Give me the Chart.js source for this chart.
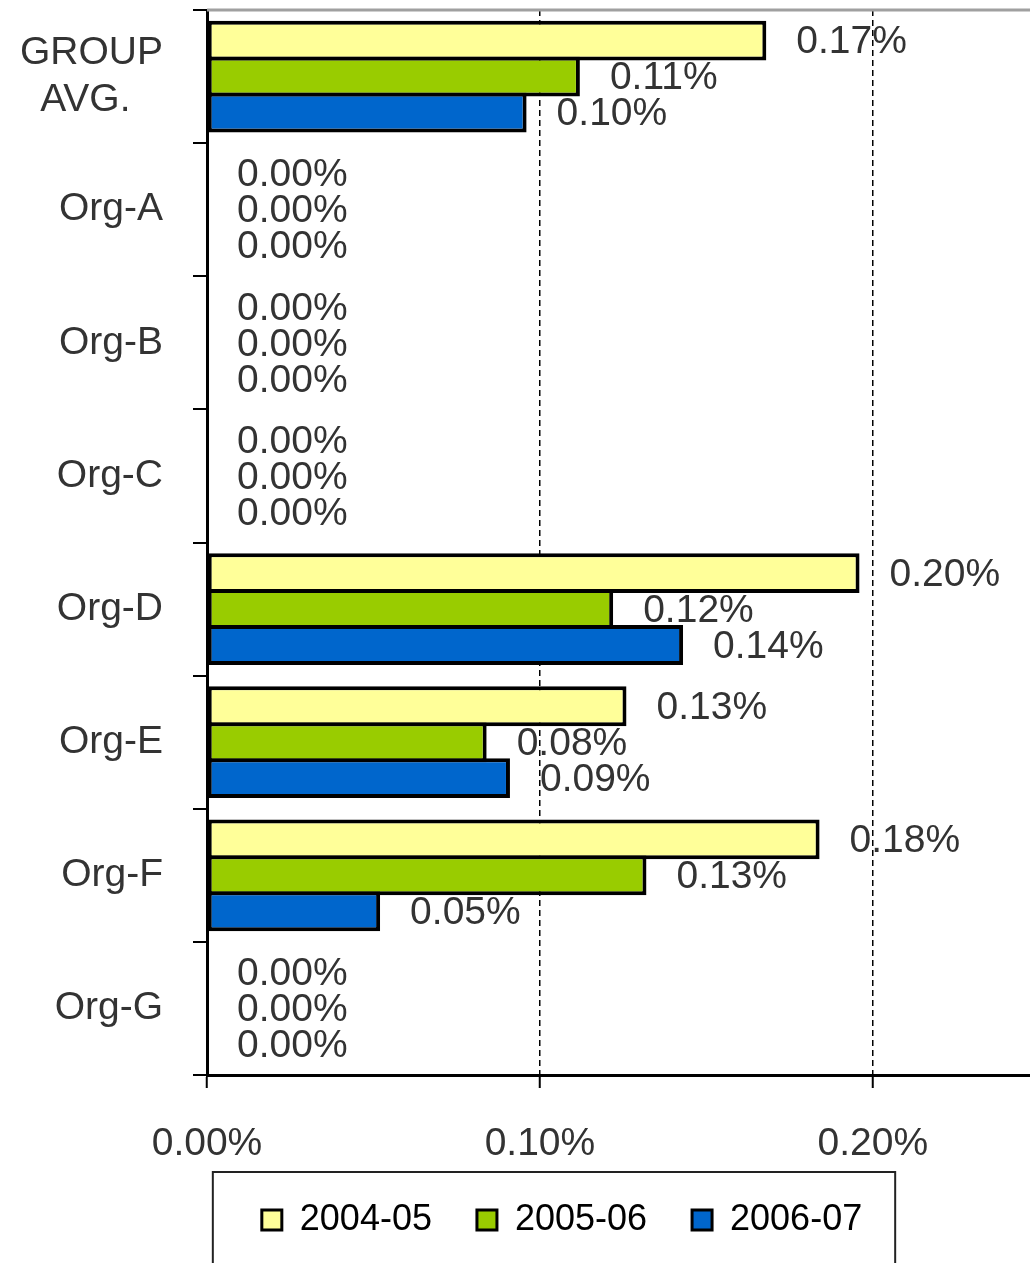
<!DOCTYPE html>
<html>
<head>
<meta charset="utf-8">
<script src="https://cdn.jsdelivr.net/npm/chart.js@4/dist/chart.umd.min.js"></script>
<style>
  html, body { margin: 0; padding: 0; background: #fff; overflow: hidden; }
  canvas { display: block; }
</style>
</head>
<body>
<canvas id="chart" width="1030" height="1263"></canvas>
<script>
// ── Data (percent values) ─────────────────────────────────────
const categories = [['GROUP', 'AVG.   '], 'Org-A', 'Org-B', 'Org-C', 'Org-D', 'Org-E', 'Org-F', 'Org-G'];
const seriesNames = ['2004-05', '2005-06', '2006-07'];
const y2004 = [0.168, 0, 0, 0, 0.196, 0.126, 0.184, 0];
const y2005 = [0.112, 0, 0, 0, 0.122, 0.084, 0.132, 0];
const y2006 = [0.096, 0, 0, 0, 0.143, 0.091, 0.052, 0];
const xTicks = [0, 0.1, 0.2];
const xMax = 0.2472;

const FONT = 'Liberation Sans, Arial, sans-serif';
const TEXT = '#333';
const fmt = v => v.toFixed(2) + '%';

// ── Value labels drawn next to each bar end ───────────────────
const valueLabels = {
  id: 'valueLabels',
  afterDatasetsDraw(chart) {
    const ctx = chart.ctx;
    ctx.save();
    ctx.font = '39px ' + FONT;
    ctx.fillStyle = TEXT;
    ctx.textAlign = 'left';
    ctx.textBaseline = 'middle';
    chart.data.datasets.forEach((ds, i) => {
      chart.getDatasetMeta(i).data.forEach((bar, j) => {
        ctx.fillText(fmt(ds.data[j]), bar.x + 30, bar.y + 2);
      });
    });
    ctx.restore();
  }
};

// ── Legend nudge + frame bits (grey top edge, legend box) ─────
const LEGEND_SHIFT = 47;
const frame = {
  id: 'frame',
  afterLayout(chart) {
    const lg = chart.legend;
    lg.left += LEGEND_SHIFT;
    lg.right += LEGEND_SHIFT;
    (lg.legendHitBoxes || []).forEach(h => { h.left += LEGEND_SHIFT; });
  },
  afterDraw(chart) {
    const ctx = chart.ctx;
    const a = chart.chartArea;
    ctx.save();
    ctx.strokeStyle = '#a0a0a0';
    ctx.lineWidth = 3;
    ctx.beginPath();
    ctx.moveTo(a.left, a.top);
    ctx.lineTo(a.right, a.top);
    ctx.stroke();

    const lg = chart.legend;
    const hb = lg.legendHitBoxes;
    if (hb && hb.length) {
      const left = hb[0].left - 49;
      const right = hb[hb.length - 1].left + hb[hb.length - 1].width + 33;
      ctx.strokeStyle = '#222';
      ctx.lineWidth = 2;
      ctx.strokeRect(left, lg.top + 15, right - left, 200);
    }
    ctx.restore();
  }
};

const colors = ['#FFFF99', '#99CC00', '#0066CC'];
const series = [y2004, y2005, y2006];

new Chart(document.getElementById('chart'), {
  type: 'bar',
  data: {
    labels: categories,
    datasets: series.map((d, i) => ({
      label: seriesNames[i],
      data: d,
      backgroundColor: colors[i],
      borderColor: '#000',
      borderWidth: 4,
      borderSkipped: false,
      categoryPercentage: 0.81,
      barPercentage: 1.11
    }))
  },
  plugins: [valueLabels, frame],
  options: {
    indexAxis: 'y',
    responsive: false,
    animation: false,
    devicePixelRatio: 1,
    layout: { padding: { top: 10, left: 0, right: 0, bottom: 15 } },
    plugins: {
      legend: {
        position: 'bottom',
        labels: {
          font: { family: FONT, size: 36 },
          color: TEXT,
          boxWidth: 20,
          boxHeight: 20,
          padding: 45,
          generateLabels: chart => chart.data.datasets.map((ds, i) => ({
            text: ds.label,
            fillStyle: colors[i],
            strokeStyle: '#000',
            lineWidth: 3,
            datasetIndex: i
          }))
        }
      },
      tooltip: { enabled: false }
    },
    scales: {
      x: {
        min: 0,
        max: xMax,
        afterBuildTicks: s => { s.ticks = xTicks.map(v => ({ value: v })); },
        afterFit: s => { s.height = 82; s.paddingRight = 0; },
        ticks: {
          font: { family: FONT, size: 39 },
          color: TEXT,
          padding: 33,
          maxRotation: 0,
          callback: v => fmt(v)
        },
        grid: {
          color: '#000',
          lineWidth: 1.5,
          tickLength: 13,
          tickBorderDash: [],
          tickWidth: 2
        },
        border: { color: '#000', width: 3, dash: [6, 4] }
      },
      y: {
        afterFit: s => { s.width = 207; s.paddingTop = 0; s.paddingBottom = 0; },
        ticks: {
          font: { family: FONT, size: 39 },
          color: TEXT,
          padding: 30
        },
        grid: {
          offset: true,
          drawOnChartArea: false,
          color: '#000',
          lineWidth: 2,
          tickLength: 14
        },
        border: { color: '#000', width: 3 }
      }
    }
  }
});
</script>
</body>
</html>
